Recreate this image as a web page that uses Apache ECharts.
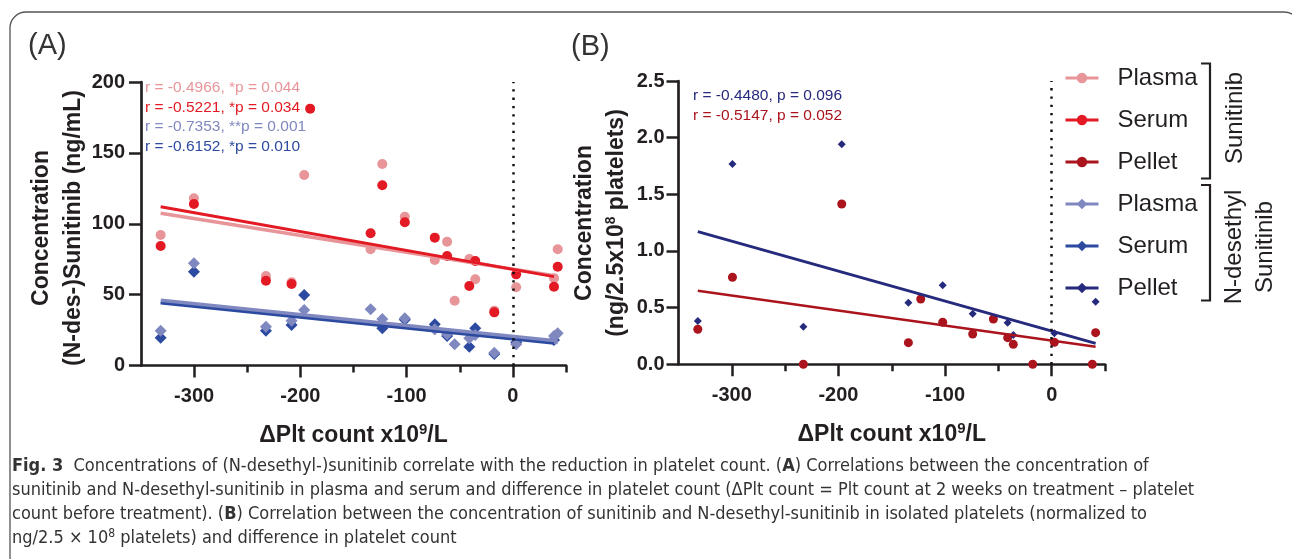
<!DOCTYPE html>
<html>
<head>
<meta charset="utf-8">
<script src="https://cdn.jsdelivr.net/npm/echarts@6.0.0/dist/echarts.min.js"></script>
<style>
  html, body { margin: 0; padding: 0; background: #fff; }
  #chart { width: 1292px; height: 559px; }
</style>
</head>
<body>
<div id="chart"></div>
<script>
// x = ΔPlt count (x10^9/L), y = concentration
const xMajor = [-300, -200, -100, 0]
const xMinor = [-250, -150, -50, 50]

// panel A: sunitinib / N-desethyl sunitinib (ng/mL)
const sunPlasma = [[-331.5, 92.1], [-300.2, 118.0], [-232.4, 63.1], [-208.3, 58.7], [-196.4, 134.4],
  [-133.9, 82.0], [-122.9, 142.2], [-101.7, 105.0], [-73.5, 74.4], [-61.9, 87.3], [-54.8, 45.7],
  [-41, 75.1], [-35.4, 60.8], [-17.5, 38.7], [3.1, 55.2], [38.7, 61.5], [42.2, 82.0]]
const sunSerum = [[-331.5, 84.3], [-300.2, 113.9], [-232.4, 59.8], [-208.3, 57.5], [-190.8, 181.2],
  [-133.9, 93.3], [-122.9, 127.1], [-101.7, 101.0], [-73.5, 90.2], [-61.9, 77.2], [-41, 56.1],
  [-35.4, 73.7], [-17.5, 37.5], [3.1, 64.3], [38.7, 55.6], [42.2, 69.7]]
const desPlasma = [[-331.5, 24.6], [-300.2, 72.1], [-232.4, 27.4], [-208.3, 31.6], [-196.4, 39.2],
  [-133.9, 39.6], [-122.9, 32.8], [-101.7, 33.3], [-73.5, 25.5], [-61.9, 22.0], [-54.8, 15.0],
  [-41, 19.2], [-35.4, 21.5], [-17.5, 9.0], [3.1, 15.0], [38.7, 20.8], [42.2, 22.7]]
const desSerum = [[-331.5, 19.6], [-300.2, 66.2], [-232.4, 24.6], [-208.3, 28.6], [-196.4, 49.7],
  [-122.9, 26.2], [-101.7, 32.2], [-73.5, 29.1], [-61.9, 20.8], [-41, 13.3], [-35.4, 26.2],
  [-17.5, 8.1], [3.1, 16.2], [38.7, 18.0]]

// panel B: platelet pellet (ng/2.5x10^8 platelets)
const sunPellet = [[-331.9, 0.309], [-299.4, 0.768], [-232.9, 0.0], [-196.9, 1.415], [-134.4, 0.191],
  [-122.8, 0.576], [-102.2, 0.371], [-74.1, 0.267], [-54.7, 0.400], [-41.3, 0.235], [-36.0, 0.176],
  [-17.8, 0.0], [2.5, 0.194], [38.1, 0.0], [41.2, 0.279]]
const desPellet = [[-331.9, 0.382], [-299.4, 1.768], [-232.9, 0.332], [-196.9, 1.942], [-134.4, 0.544],
  [-102.2, 0.697], [-74.1, 0.447], [-41.3, 0.367], [-36.0, 0.259], [2.5, 0.274], [41.2, 0.553]]

// regression lines (end points)
const fitSunPlasma = [[-331.5, 107.4], [42.2, 63.0]]
const fitSunSerum = [[-331.5, 112.0], [38.7, 62.7]]
const fitDesPlasma = [[-331.5, 45.5], [42.2, 16.8]]
const fitDesSerum = [[-331.5, 43.9], [38.7, 15.5]]
const fitSunPellet = [[-331.9, 0.650], [41.2, 0.155]]
const fitDesPellet = [[-331.9, 1.171], [41.2, 0.185]]

const statsA = ['r = -0.4966, *p = 0.044', 'r = -0.5221, *p = 0.034', 'r = -0.7353, **p = 0.001', 'r = -0.6152, *p = 0.010']
const statsB = ['r = -0.4480, p = 0.096', 'r = -0.5147, p = 0.052']

const C = {
  pink: '#e8959a', red: '#e31a23', darkRed: '#ab141d',
  lilac: '#8088c0', blue: '#2c4aa0', navy: '#262a7c', ink: '#231f20'
}
const FONT = "'Liberation Sans', Arial, sans-serif"

const chart = echarts.init(document.getElementById('chart'))

function xAxes(grid) {
  return [
    {
      gridIndex: grid, type: 'value', min: -350, max: 50,
      axisLine: { onZero: false, lineStyle: { color: C.ink, width: 2.7 } },
      axisTick: { customValues: xMajor, length: 12, lineStyle: { color: C.ink, width: 2.5 } },
      axisLabel: { customValues: xMajor, margin: 21, color: C.ink, fontSize: 20, fontWeight: 'bold', fontFamily: FONT },
      splitLine: { show: false },
      name: 'ΔPlt count x10{sup|9}/L', nameLocation: 'middle', nameGap: 57,
      nameTextStyle: {
        color: C.ink, fontSize: 23, fontWeight: 'bold', fontFamily: FONT,
        rich: { sup: { fontSize: 15, fontWeight: 'bold', fontFamily: FONT, color: C.ink, padding: [0, 0, 12, 0] } }
      }
    },
    {
      gridIndex: grid, type: 'value', min: -350, max: 50, position: 'bottom',
      axisLine: { show: false, onZero: false },
      axisTick: { customValues: xMinor, length: 7, lineStyle: { color: C.ink, width: 2.5 } },
      axisLabel: { show: false },
      splitLine: { show: false }
    }
  ]
}

function yAxis(grid, max, step, margin, fmt) {
  return {
    gridIndex: grid, type: 'value', min: 0, max: max, interval: step,
    axisLine: { show: true, onZero: false, lineStyle: { color: C.ink, width: 2.7 } },
    axisTick: { show: true, length: 12, lineStyle: { color: C.ink, width: 2.5 } },
    axisLabel: { margin: margin, color: C.ink, fontSize: 20, fontWeight: 'bold', fontFamily: FONT, formatter: fmt },
    splitLine: { show: false }
  }
}

const zeroLine = {
  silent: true, symbol: ['none', 'none'], label: { show: false },
  lineStyle: { type: [2.3, 6], color: '#111', width: 2.5 },
  data: [{ xAxis: 0 }]
}

function fit(name, data, xi, yi, color, width, symbol, extra) {
  return Object.assign({
    name: name, type: 'line', data: data, xAxisIndex: xi, yAxisIndex: yi,
    symbol: symbol, showSymbol: false, silent: true,
    itemStyle: { color: color }, lineStyle: { color: color, width: width }
  }, extra || {})
}

function dots(name, data, xi, yi, color, symbol, size) {
  return {
    name: name, type: 'scatter', data: data, xAxisIndex: xi, yAxisIndex: yi,
    symbol: symbol, symbolSize: size, clip: false, silent: true,
    itemStyle: { color: color, opacity: 1 }
  }
}

function textLine(x, y, text, color, size) {
  return {
    type: 'text', x: x, y: y,
    style: { text: text, fill: color, fontSize: size, fontFamily: FONT, align: 'left', verticalAlign: 'middle' }
  }
}

const caption = [
  '{b|Fig. 3}  Concentrations of (N-desethyl-)sunitinib correlate with the reduction in platelet count. ({b|A}) Correlations between the concentration of',
  'sunitinib and N-desethyl-sunitinib in plasma and serum and difference in platelet count (ΔPlt count = Plt count at 2 weeks on treatment – platelet',
  'count before treatment). ({b|B}) Correlation between the concentration of sunitinib and N-desethyl-sunitinib in isolated platelets (normalized to',
  'ng/2.5 × 10{s|8} platelets) and difference in platelet count'
]
const CAP_FONT = "'DejaVu Sans Condensed', sans-serif"

const option = {
  backgroundColor: '#fff',
  animation: false,
  grid: [
    { left: 141, top: 82, width: 425, height: 283.5 },
    { left: 678.5, top: 81, width: 426.5, height: 283.3 }
  ],
  xAxis: xAxes(0).concat(xAxes(1)),
  yAxis: [
    yAxis(0, 200, 50, 16),
    yAxis(1, 2.5, 0.5, 14, v => v.toFixed(1))
  ],
  legend: {
    orient: 'vertical', left: 1064, top: 66, padding: 0,
    itemWidth: 33, itemHeight: 13, itemGap: 18,
    lineStyle: { width: 3 },
    textStyle: { fontSize: 24, color: C.ink, fontFamily: FONT, lineHeight: 24, padding: [0, 0, 0, 14] },
    data: ['Plasma', 'Serum', 'Pellet', 'Plasma ', 'Serum ', 'Pellet ']
  },
  series: [
    fit('Plasma', fitSunPlasma, 0, 0, C.pink, 3.5, 'circle', { markLine: zeroLine }),
    fit('Serum', fitSunSerum, 0, 0, C.red, 3, 'circle'),
    fit('Plasma ', fitDesPlasma, 0, 0, C.lilac, 5, 'diamond'),
    fit('Serum ', fitDesSerum, 0, 0, C.blue, 2.5, 'diamond'),
    fit('Pellet', fitSunPellet, 2, 1, C.darkRed, 2.5, 'circle', { markLine: zeroLine }),
    fit('Pellet ', fitDesPellet, 2, 1, C.navy, 3, 'diamond'),
    dots('sunPlasma', sunPlasma, 0, 0, C.pink, 'circle', 10),
    dots('sunSerum', sunSerum, 0, 0, C.red, 'circle', 10),
    dots('desSerum', desSerum, 0, 0, C.blue, 'diamond', 12),
    dots('desPlasma', desPlasma, 0, 0, C.lilac, 'diamond', 12),
    dots('sunPellet', sunPellet, 2, 1, C.darkRed, 'circle', 9),
    dots('desPellet', desPellet, 2, 1, C.navy, 'diamond', 8)
  ],
  graphic: [
    { type: 'rect', z: -10, shape: { x: 10, y: 12, width: 1290, height: 700, r: 16 },
      style: { fill: 'none', stroke: '#555', lineWidth: 1.3 } },
    { type: 'text', x: 28, y: 46, style: { text: '(A)', fontSize: 29, fontFamily: FONT, fill: '#333', verticalAlign: 'middle' } },
    { type: 'text', x: 571, y: 47, style: { text: '(B)', fontSize: 29, fontFamily: FONT, fill: '#333', verticalAlign: 'middle' } },
    // y axis titles
    { type: 'text', x: 58, y: 228, rotation: Math.PI / 2,
      style: { text: 'Concentration\n(N-des-)Sunitinib (ng/mL)', fontSize: 23, fontWeight: 'bold', fontFamily: FONT,
        lineHeight: 32, fill: C.ink, align: 'center', verticalAlign: 'middle' } },
    { type: 'text', x: 601, y: 223, rotation: Math.PI / 2,
      style: { text: 'Concentration\n(ng/2.5x10{sup|8} platelets)', fontSize: 23, fontWeight: 'bold', fontFamily: FONT,
        lineHeight: 32, fill: C.ink, align: 'center', verticalAlign: 'middle',
        rich: { sup: { fontSize: 14, fontWeight: 'bold', fontFamily: FONT, fill: C.ink, padding: [0, 0, 12, 0] } } } },
    // correlation stats
    textLine(145, 87.5, statsA[0], C.pink, 15.5),
    textLine(145, 107.3, statsA[1], C.red, 15.5),
    textLine(145, 127, statsA[2], C.lilac, 15.5),
    textLine(145, 146.8, statsA[3], C.blue, 15.5),
    textLine(693, 96, statsB[0], C.navy, 15.5),
    textLine(693, 116, statsB[1], C.darkRed, 15.5),
    // legend brackets
    { type: 'polyline', shape: { points: [[1201, 63.5], [1210, 63.5], [1210, 178.5], [1201, 178.5]] },
      style: { fill: 'none', stroke: C.ink, lineWidth: 2.2 } },
    { type: 'polyline', shape: { points: [[1201, 185], [1210, 185], [1210, 300.5], [1201, 300.5]] },
      style: { fill: 'none', stroke: C.ink, lineWidth: 2.2 } },
    { type: 'text', x: 1235, y: 118, rotation: Math.PI / 2,
      style: { text: 'Sunitinib', fontSize: 24, fontFamily: FONT, fill: C.ink, align: 'center', verticalAlign: 'middle' } },
    { type: 'text', x: 1250, y: 247, rotation: Math.PI / 2,
      style: { text: 'N-desethyl\nSunitinib', fontSize: 24, lineHeight: 31, fontFamily: FONT, fill: C.ink, align: 'center', verticalAlign: 'middle' } }
  ].concat(caption.map((t, i) => ({
    type: 'text', x: 12, y: 466 + i * 24,
    style: {
      text: t, fontSize: 18, fontFamily: CAP_FONT, fill: '#333', verticalAlign: 'middle',
      rich: {
        b: { fontSize: 18, fontWeight: 'bold', fontFamily: CAP_FONT, fill: '#333' },
        s: { fontSize: 12, fontFamily: CAP_FONT, fill: '#333', padding: [0, 0, 9, 0] }
      }
    }
  })))
}

chart.setOption(option)
</script>
</body>
</html>
